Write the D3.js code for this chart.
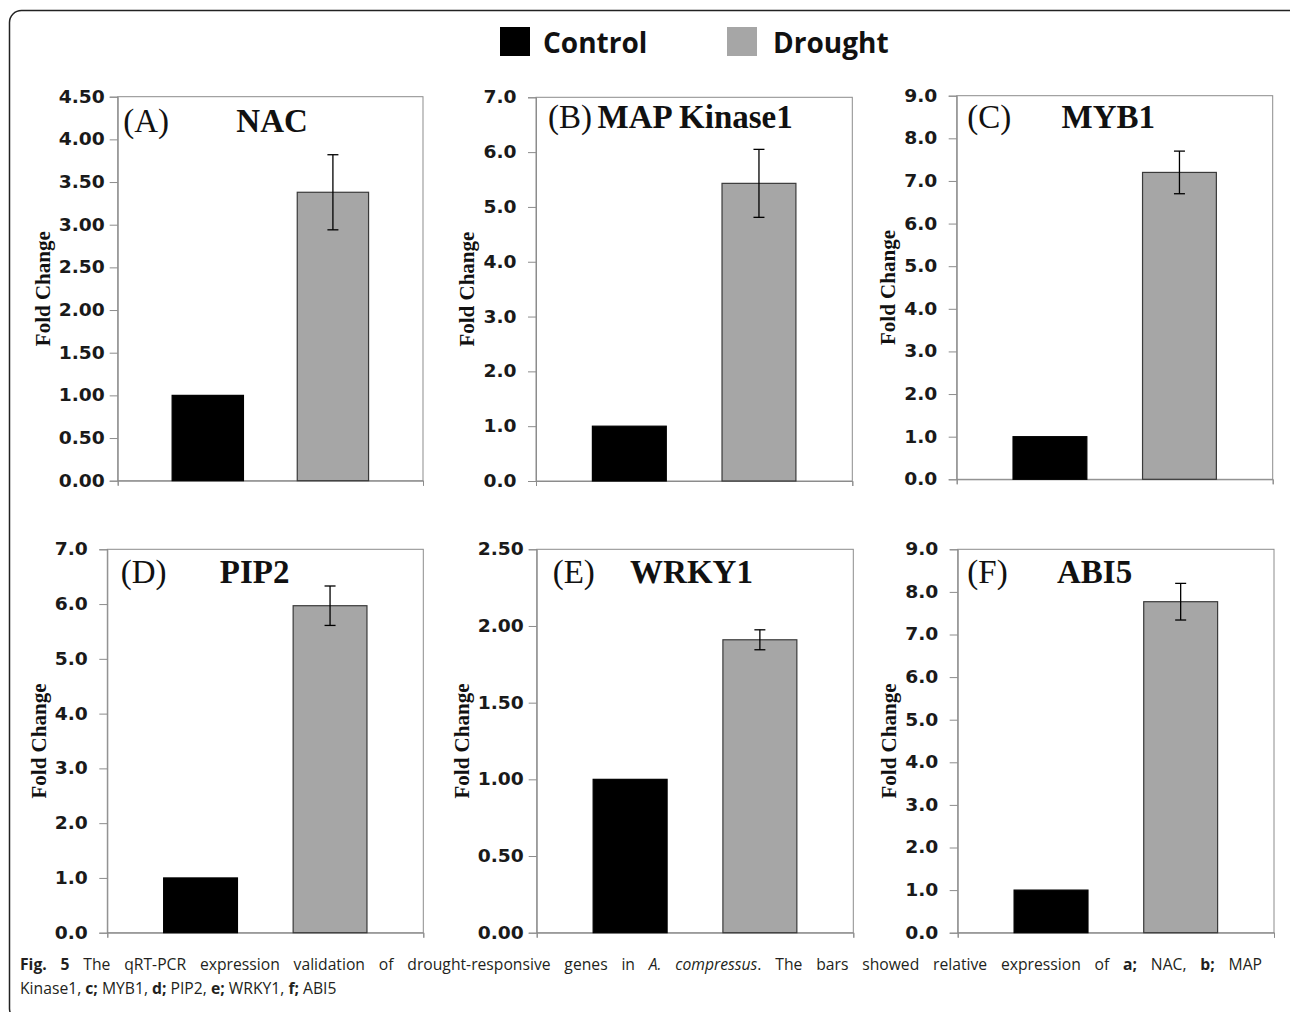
<!DOCTYPE html>
<html>
<head>
<meta charset="utf-8">
<script src="https://cdn.jsdelivr.net/npm/d3@7"></script>
<style>
  html, body { margin: 0; padding: 0; background: #fff; }
  svg { display: block; }
</style>
</head>
<body>
<script>
// ---------- data ----------
const genes = ["NAC", "MAP Kinase1", "MYB1", "PIP2", "WRKY1", "ABI5"];
const panelLetters = ["(A)", "(B)", "(C)", "(D)", "(E)", "(F)"];
const seriesNames = ["Control", "Drought"];
const controlValues = [1.00, 1.00, 1.00, 1.00, 1.00, 1.00];
const droughtValues = [3.38, 5.43, 7.20, 5.97, 1.91, 7.77];
const droughtErrors = [0.44, 0.62, 0.50, 0.36, 0.065, 0.43];
const yMaxValues = [4.5, 7, 9, 7, 2.5, 9];
const yStepValues = [0.5, 1, 1, 1, 0.5, 1];
const yTickDecimals = [2, 1, 1, 1, 2, 1];
const yAxisTitle = "Fold Change";

// ---------- layout (positions / styles, not data) ----------
const plotBoxes = [
  {l: 117.7, t: 96.7, r: 423.0, b: 480.7},
  {l: 536.0, t: 97.3, r: 852.3, b: 481.0},
  {l: 956.7, t: 95.7, r: 1272.7, b: 479.3},
  {l: 107.3, t: 549.3, r: 423.3, b: 932.7},
  {l: 536.7, t: 549.3, r: 853.3, b: 932.7},
  {l: 957.7, t: 549.3, r: 1274.0, b: 932.7}
];
const letterDx = [5.6, 12, 10.6, 13.4, 16, 9.6];
const titleDy = [35, 31, 32.6, 34, 34, 33.7];
const geneDx = [1.7, 1, -6.4, -10.6, -3.5, -21.3];
const colors = {Control: "#000000", Drought: "#a6a6a6"};
const axisGray = "#8c8c8c";

const W = 1290, H = 1012;
const svg = d3.select("body").append("svg").attr("width", W).attr("height", H);

// outer rounded frame
svg.append("rect")
  .attr("x", 9.5).attr("y", 10.5).attr("width", 1300).attr("height", 1010)
  .attr("rx", 12).attr("ry", 12)
  .attr("fill", "none").attr("stroke", "#222").attr("stroke-width", 1.5);

// legend
const legend = svg.append("g");
const legItems = [
  {name: "Control", sx: 500, tx: 543},
  {name: "Drought", sx: 727, tx: 773}
];
legItems.forEach(it => {
  legend.append("rect").attr("x", it.sx).attr("y", 27).attr("width", 30).attr("height", 29)
    .attr("fill", colors[it.name]);
  legend.append("text").attr("x", it.tx).attr("y", 52.5)
    .attr("font-family", "'Open Sans', sans-serif").attr("font-weight", 700)
    .attr("font-size", 28).attr("fill", "#111").text(it.name);
});

// panels
genes.forEach((gene, i) => {
  const box = plotBoxes[i];
  const w = box.r - box.l, h = box.b - box.t;
  const g = svg.append("g").attr("transform", `translate(${box.l},${box.t})`);

  const y = d3.scaleLinear().domain([0, yMaxValues[i]]).range([h, 0]);
  const x = d3.scaleBand().domain(seriesNames).range([0, w]).paddingInner(0.43).paddingOuter(0.435);

  // plot area border
  g.append("rect").attr("x", 0).attr("y", 0).attr("width", w).attr("height", h)
    .attr("fill", "none").attr("stroke", axisGray).attr("stroke-width", 1);

  // y axis
  const ticks = d3.range(0, yMaxValues[i] + yStepValues[i] / 2, yStepValues[i]);
  const yAxis = g.append("g").attr("class", "yaxis")
    .call(d3.axisLeft(y).tickValues(ticks).tickFormat(d3.format(`.${yTickDecimals[i]}f`))
      .tickSize(8).tickPadding(4));
  yAxis.select(".domain").attr("stroke", axisGray);
  yAxis.selectAll(".tick line").attr("stroke", axisGray);
  yAxis.selectAll(".tick text")
    .attr("x", -36).attr("text-anchor", "middle")
    .attr("font-family", "'DejaVu Sans', sans-serif").attr("font-weight", 700)
    .attr("font-size", 17).attr("fill", "#1a1a1a")
    .each(function () {
      const L = this.getComputedTextLength();
      d3.select(this).attr("textLength", L * 1.1).attr("lengthAdjust", "spacingAndGlyphs");
    });

  // x axis (single category: end ticks only)
  const xl = d3.scaleLinear().domain([0, 1]).range([0, w]);
  const xAxis = g.append("g").attr("transform", `translate(0,${h})`)
    .call(d3.axisBottom(xl).tickValues([0, 1]).tickFormat("").tickSize(5));
  xAxis.select(".domain").attr("stroke", axisGray);
  xAxis.selectAll(".tick line").attr("stroke", axisGray);

  // bars
  const vals = [controlValues[i], droughtValues[i]];
  g.selectAll("rect.bar").data(seriesNames).enter().append("rect")
    .attr("class", "bar")
    .attr("x", d => x(d))
    .attr("y", (d, k) => y(vals[k]))
    .attr("width", x.bandwidth())
    .attr("height", (d, k) => h - y(vals[k]))
    .attr("fill", d => colors[d])
    .attr("stroke", d => d === "Control" ? "#000" : "#3a3a3a")
    .attr("stroke-width", 1.2);

  // error bar on drought
  const cx = x("Drought") + x.bandwidth() / 2;
  const e = droughtErrors[i], v = droughtValues[i];
  const eg = g.append("g").attr("stroke", "#000").attr("stroke-width", 1.3);
  eg.append("line").attr("x1", cx).attr("x2", cx).attr("y1", y(v + e)).attr("y2", y(v - e));
  eg.append("line").attr("x1", cx - 5.5).attr("x2", cx + 5.5).attr("y1", y(v + e)).attr("y2", y(v + e));
  eg.append("line").attr("x1", cx - 5.5).attr("x2", cx + 5.5).attr("y1", y(v - e)).attr("y2", y(v - e));

  // y axis title
  const bb = yAxis.node().getBBox();
  g.append("text")
    .attr("transform", `translate(${bb.x - 16},${h / 2}) rotate(-90)`)
    .attr("text-anchor", "middle").attr("dominant-baseline", "central")
    .attr("font-family", "'Liberation Serif', 'Times New Roman', serif").attr("font-weight", 700)
    .attr("font-size", 21).attr("fill", "#111").text(yAxisTitle);

  // panel letter + gene title
  g.append("text").attr("x", letterDx[i]).attr("y", titleDy[i])
    .attr("font-family", "'Liberation Serif', 'Times New Roman', serif")
    .attr("font-size", 33).attr("fill", "#111").text(panelLetters[i]);
  g.append("text").attr("x", w / 2 + geneDx[i]).attr("y", titleDy[i])
    .attr("text-anchor", "middle")
    .attr("font-family", "'Liberation Serif', 'Times New Roman', serif").attr("font-weight", 700)
    .attr("font-size", 33).attr("fill", "#111").text(gene);
});

// caption (first line justified through word spacing)
const capFont = "'Open Sans', sans-serif";
const cap1 = [
  {t: "Fig. 5", b: true},
  {t: " The qRT-PCR expression validation of drought-responsive genes in "},
  {t: "A. compressus", i: true},
  {t: ". The bars showed relative expression of "},
  {t: "a;", b: true}, {t: " NAC, "}, {t: "b;", b: true}, {t: " MAP"}
];
const cap2 = [
  {t: "Kinase1, "}, {t: "c;", b: true}, {t: " MYB1, "}, {t: "d;", b: true},
  {t: " PIP2, "}, {t: "e;", b: true}, {t: " WRKY1, "}, {t: "f;", b: true}, {t: " ABI5"}
];
[[cap1, 970, 1242], [cap2, 994, null]].forEach(([parts, yy, justify]) => {
  const t = svg.append("text").attr("x", 20).attr("y", yy)
    .attr("font-family", capFont).attr("font-size", 15.7).attr("fill", "#231f20");
  parts.forEach(p => {
    t.append("tspan").text(p.t)
      .attr("font-weight", p.b ? 700 : 400)
      .attr("font-style", p.i ? "italic" : "normal");
  });
  if (justify) {
    const natural = t.node().getComputedTextLength();
    const spaces = parts.map(p => p.t).join("").split(" ").length - 1;
    t.attr("word-spacing", (justify - natural) / spaces);
  }
});
</script>
</body>
</html>
